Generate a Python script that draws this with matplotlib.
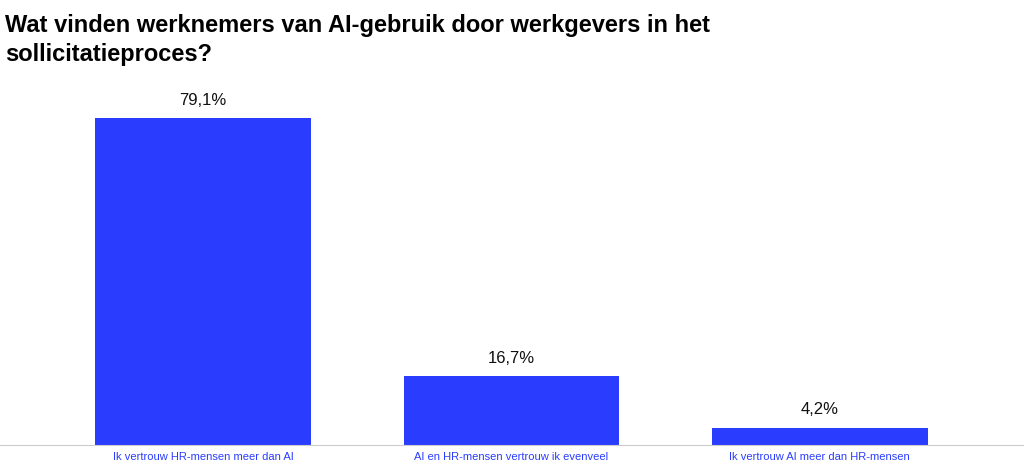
import matplotlib.pyplot as plt
from matplotlib.lines import Line2D

categories = ["Ik vertrouw HR-mensen meer dan AI",
              "AI en HR-mensen vertrouw ik evenveel",
              "Ik vertrouw AI meer dan HR-mensen"]
values = [79.1, 16.7, 4.2]
labels = ["79,1%", "16,7%", "4,2%"]

plt.rcParams['font.family'] = ['Liberation Sans', 'DejaVu Sans']

fig = plt.figure(figsize=(10.24, 4.7), dpi=100)
ax = fig.add_axes([49/1024, 25/470, 925/1024, 345/470])

x = range(len(categories))
ax.bar(x, values, width=0.7, color='#2a3dff')
for i, (v, lab) in enumerate(zip(values, labels)):
    ax.text(i, v + 2.5, lab, ha='center', va='bottom', fontsize=12, color='#111')

ax.set_xlim(-0.5, 2.5)
ax.set_ylim(0, 83.5)
ax.set_yticks([])
ax.set_xticks(list(x))
ax.set_xticklabels(categories, fontsize=8, color='#2a3dff')
ax.tick_params(axis='x', length=0, pad=5)
for s in ax.spines.values():
    s.set_visible(False)

fig.add_artist(Line2D([0, 1], [25/470, 25/470], color='#cccccc', lw=0.8))

fig.text(5/1024, 1 - 22/470, "Wat vinden werknemers van AI-gebruik door werkgevers in het\nsollicitatieproces?",
         ha='left', va='center', fontsize=17, fontweight='bold', color='black', linespacing=1.3,
         family=['Liberation Sans'])
fig.texts[-1].set_y(1 - 40/470)

fig.savefig('out.png', dpi=100)
